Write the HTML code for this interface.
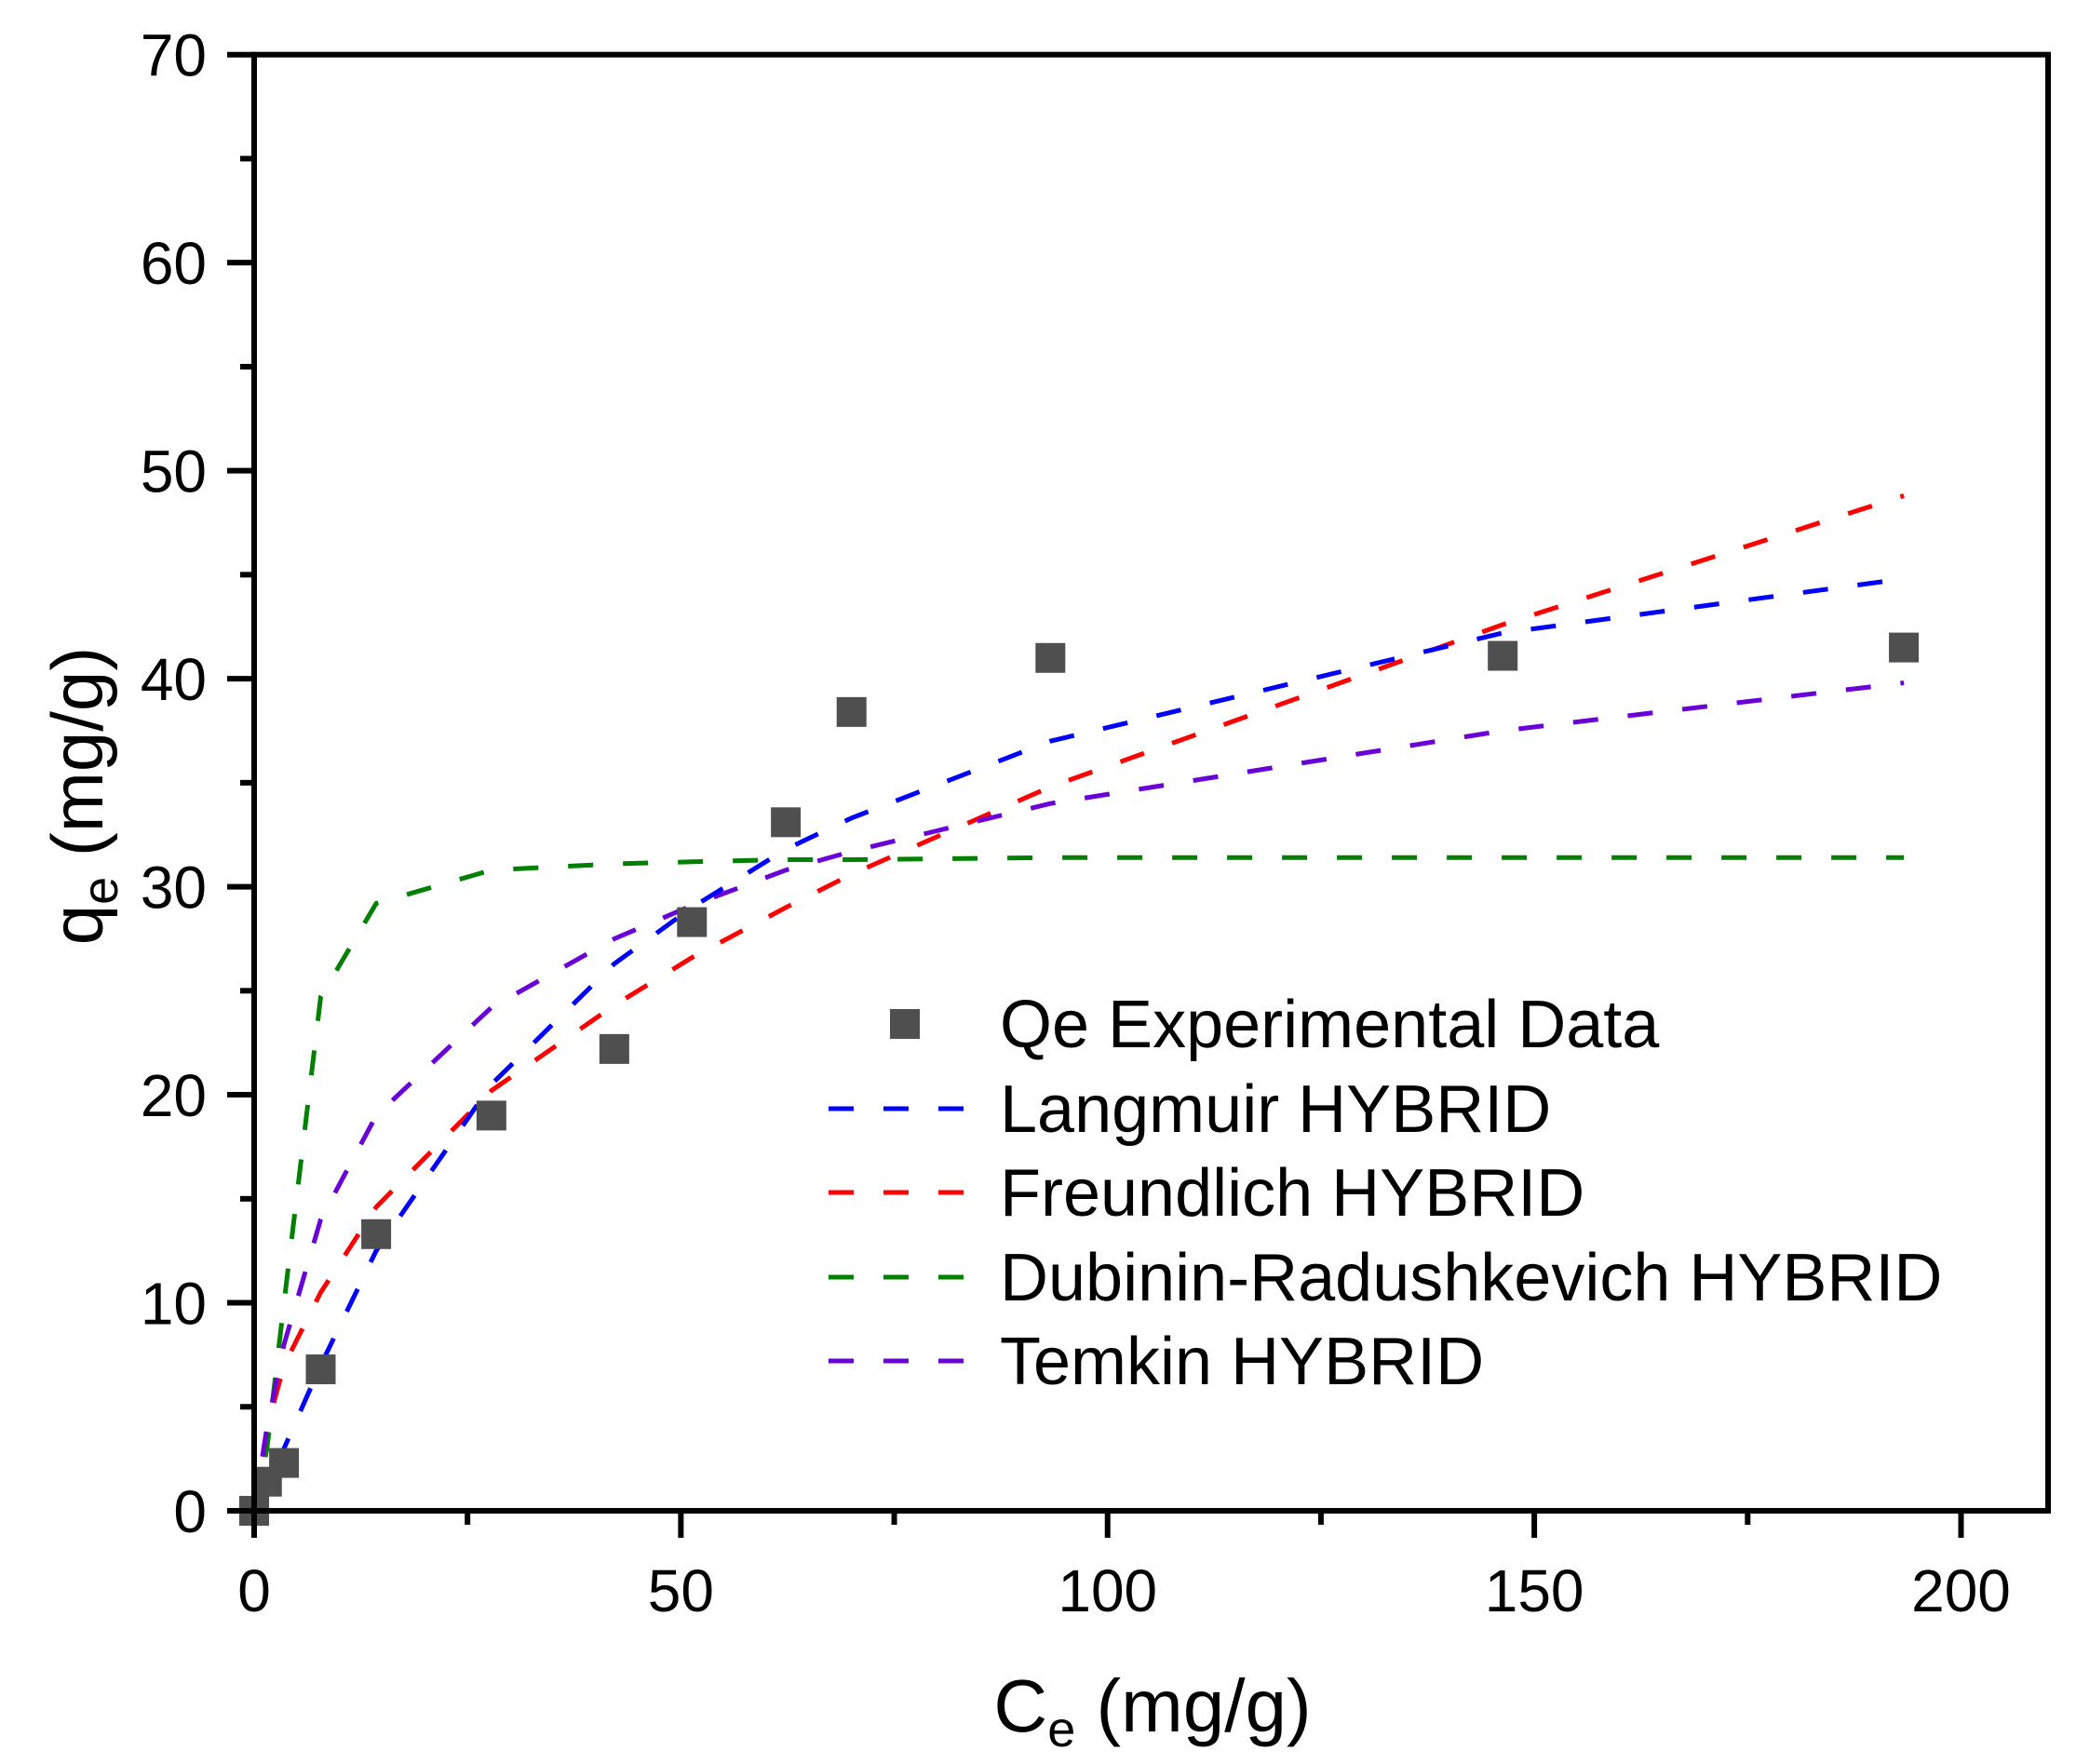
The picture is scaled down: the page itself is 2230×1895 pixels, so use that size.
<!DOCTYPE html>
<html><head><meta charset="utf-8"><style>
html,body{margin:0;padding:0;background:#fff;}
svg text{font-family:"Liberation Sans",Arial,sans-serif;fill:#000;}
</style></head><body>
<svg id="chart" width="2230" height="1890" viewBox="0 0 2230 1890" xmlns="http://www.w3.org/2000/svg">
<g id="plot"></g>
</svg>
<script>
const ceValues = [0,1.5,3.5,7.8,14.3,27.8,42.2,51.3,62.3,70,93.3,146.3,193.3];
const qeExperimental = [0,1.4,2.3,6.8,13.3,19,22.2,28.3,33.1,38.4,41,41.1,41.5];
const langmuir = [0,1.2,3,7,12.5,20.5,26.3,29,31.8,33.3,37,42.2,44.8];
const freundlich = [0,4,7,10.5,14.6,20.2,24.3,26.6,29,30.6,34.8,42.6,48.8];
const dubinin = [0,3,10,24.7,29.2,30.8,31.1,31.2,31.3,31.3,31.4,31.4,31.4];
const temkin = [0,4,8,14,19,24.2,27.5,29.1,30.8,31.7,34,37.5,39.8];
const xTicks = [0,50,100,150,200];
const yTicks = [0,10,20,30,40,50,60,70];
const seriesNames = ["Qe Experimental Data","Langmuir HYBRID","Freundlich HYBRID","Dubinin-Radushkevich HYBRID","Temkin HYBRID"];

const NS="http://www.w3.org/2000/svg";
const L=273,R=2200,T=58.7,B=1623;
const xMin=0,xMax=210.2,yMin=0,yMax=70;
function sx(v){return L+(v-xMin)/(xMax-xMin)*(R-L);}
function sy(v){return B-(v-yMin)/(yMax-yMin)*(B-T);}
const g=document.getElementById('plot');
function mk(tag,attrs,parent){const e=document.createElementNS(NS,tag);for(const k in attrs)e.setAttribute(k,attrs[k]);(parent||g).appendChild(e);return e;}

function curve(vals,color,name){
  const pts=ceValues.map((x,i)=>sx(x).toFixed(1)+','+sy(vals[i]).toFixed(1)).join(' ');
  const p=mk('polyline',{points:pts,fill:'none',stroke:color,'stroke-width':5,'stroke-dasharray':'27 32'});
  
  
}
curve(dubinin,'#008000','dubinin-radushkevich-curve');
curve(freundlich,'#ff0000','freundlich-curve');
curve(temkin,'#6a00d8','temkin-curve');
curve(langmuir,'#0000ff','langmuir-curve');

ceValues.forEach((x,i)=>{
  const r=mk('rect',{x:sx(x)-16,y:sy(qeExperimental[i])-16,width:32,height:32,fill:'#4f4f4f'});
  
  
});

const fr=mk('rect',{x:L,y:T,width:R-L,height:B-T,fill:'none',stroke:'#000','stroke-width':6});



for(let v=0;v<=xMax;v+=25){
  const major=v%50===0;
  const t=mk('line',{x1:sx(v),x2:sx(v),y1:B,y2:B+(major?29:15),stroke:'#000','stroke-width':6});
  
  
}
xTicks.forEach(v=>{
  const t=mk('text',{x:sx(v),y:1731,'font-size':64,'text-anchor':'middle'});
  t.textContent=v;
  
  
});
for(let v=0;v<=yMax;v+=5){
  const major=v%10===0;
  const t=mk('line',{x1:L,x2:L-(major?29:15),y1:sy(v),y2:sy(v),stroke:'#000','stroke-width':6});
  
  
}
yTicks.forEach(v=>{
  const t=mk('text',{x:222,y:sy(v)+23,'font-size':64,'text-anchor':'end'});
  t.textContent=v;
  
  
});

const xt=mk('text',{x:1238,y:1860,'font-size':80,'text-anchor':'middle'});
xt.innerHTML='C<tspan font-size="54" dy="16">e</tspan><tspan dy="-16"> (mg/g)</tspan>';


const yt=mk('text',{x:0,y:0,'font-size':78,'text-anchor':'middle',transform:'translate(110,855) rotate(-90)'});
yt.innerHTML='q<tspan font-size="54" dy="16">e</tspan><tspan dy="-16"> (mg/g)</tspan>';



const rowsY=[1100,1191,1281,1372,1462];
const legColors=[null,'#0000ff','#ff0000','#008000','#6a00d8'];
seriesNames.forEach((n,i)=>{
  const y=rowsY[i];
  if(i===0){
    const s=mk('rect',{x:956,y:y-16,width:32,height:32,fill:'#4f4f4f'});
    
    
  } else {
    const l=mk('line',{x1:890,x2:1040,y1:y,y2:y,stroke:legColors[i],'stroke-width':5,'stroke-dasharray':'27 32'});
    
    
  }
  const t=mk('text',{x:1074,y:y+25,'font-size':72});
  t.textContent=n;
  
  
});
</script>
</body></html>
